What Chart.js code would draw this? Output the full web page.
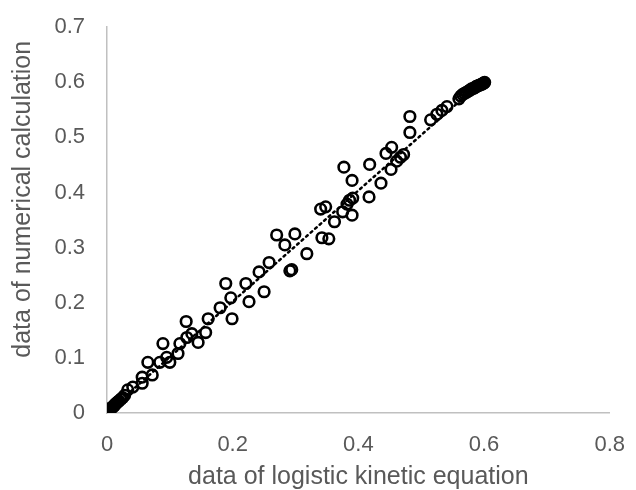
<!DOCTYPE html>
<html>
<head>
<meta charset="utf-8">
<script src="https://cdn.jsdelivr.net/npm/chart.js@4.4.1/dist/chart.umd.min.js"></script>
<style>
    html, body { margin: 0; padding: 0; background: #fff; }
    #wrap { width: 636px; height: 490px; }
</style>
</head>
<body>
<div id="wrap"><canvas id="chart" width="636" height="490"></canvas></div>
<script>
// logistic kinetic equation (x) vs numerical calculation (y)
const logisticData = [
    0.002, 0.003, 0.004, 0.005, 0.006, 0.007, 0.008, 0.009, 0.010, 0.011,
    0.012, 0.013, 0.015, 0.017, 0.019, 0.022, 0.025, 0.028,
    0.033, 0.041, 0.056, 0.056, 0.072, 0.065, 0.084, 0.100, 0.095, 0.113,
    0.089, 0.116, 0.127, 0.135, 0.145, 0.157, 0.126, 0.161, 0.180, 0.199,
    0.197, 0.189, 0.226, 0.221, 0.250, 0.242, 0.258, 0.291, 0.294, 0.270,
    0.283, 0.299, 0.318, 0.342, 0.353, 0.340, 0.348, 0.362, 0.375, 0.390,
    0.382, 0.386, 0.391, 0.417, 0.390, 0.377, 0.418, 0.436, 0.452, 0.444,
    0.453, 0.461, 0.467, 0.472, 0.482, 0.482, 0.515, 0.525, 0.533, 0.541,
    0.560, 0.563, 0.566, 0.569, 0.572, 0.575, 0.578, 0.580, 0.583, 0.585,
    0.587, 0.589, 0.591, 0.593, 0.595, 0.597, 0.599, 0.600, 0.601
];
const numericalData = [
    0.004, 0.005, 0.006, 0.007, 0.008, 0.009, 0.010, 0.011, 0.012, 0.013,
    0.014, 0.016, 0.018, 0.020, 0.022, 0.025, 0.028, 0.032,
    0.042, 0.047, 0.054, 0.065, 0.069, 0.092, 0.092, 0.092, 0.101, 0.108,
    0.126, 0.126, 0.137, 0.144, 0.128, 0.146, 0.166, 0.171, 0.191, 0.171,
    0.209, 0.235, 0.202, 0.235, 0.220, 0.256, 0.273, 0.258, 0.260, 0.323,
    0.305, 0.325, 0.289, 0.318, 0.316, 0.370, 0.374, 0.347, 0.365, 0.359,
    0.379, 0.386, 0.390, 0.392, 0.422, 0.446, 0.451, 0.417, 0.442, 0.471,
    0.482, 0.457, 0.464, 0.469, 0.509, 0.538, 0.532, 0.542, 0.549, 0.556,
    0.570, 0.575, 0.578, 0.580, 0.582, 0.584, 0.586, 0.588, 0.589, 0.590,
    0.592, 0.593, 0.594, 0.595, 0.596, 0.597, 0.598, 0.599, 0.600
];
// dotted linear trendline, ends
const trendX = [0.002, 0.602];
const trendY = [0.003, 0.607];

const xTickLabels = ["0", "0.2", "0.4", "0.6", "0.8"];
const yTickLabels = ["0", "0.1", "0.2", "0.3", "0.4", "0.5", "0.6", "0.7"];

const points = logisticData.map((x, i) => ({ x, y: numericalData[i] }));
const trend = trendX.map((x, i) => ({ x, y: trendY[i] }));

const fontFamily = "'Liberation Sans', Arial, sans-serif";
const tickFont = { family: fontFamily, size: 22 };
const titleFont = { family: fontFamily, size: 25, lineHeight: 1 };
const textColor = "#595959";
const axisColor = "#c0c0c0";

new Chart(document.getElementById("chart"), {
    type: "scatter",
    data: {
        datasets: [
            {
                label: "data",
                data: points,
                pointStyle: "circle",
                pointRadius: 5.3,
                pointBorderWidth: 2.6,
                borderColor: "#000",
                backgroundColor: "rgba(0,0,0,0)",
                order: 1
            },
            {
                label: "trend",
                type: "line",
                data: trend,
                borderColor: "#000",
                borderWidth: 2.5,
                borderDash: [2, 4],
                borderCapStyle: "round",
                pointRadius: 0,
                fill: false,
                order: 2
            }
        ]
    },
    options: {
        responsive: false,
        animation: false,
        layout: { padding: { top: 25, right: 26, left: 0, bottom: 0 } },
        plugins: {
            legend: { display: false },
            tooltip: { enabled: false }
        },
        scales: {
            x: {
                type: "linear",
                min: 0,
                max: 0.8,
                ticks: {
                    stepSize: 0.2,
                    color: textColor,
                    font: tickFont,
                    padding: 11,
                    callback: (value, index) => xTickLabels[index]
                },
                grid: { display: false },
                border: { display: true, color: axisColor, width: 1.5 },
                title: {
                    display: true,
                    text: "data of logistic kinetic equation",
                    color: textColor,
                    font: titleFont,
                    padding: 0
                },
                afterFit: (scale) => { scale.height = 77; }
            },
            y: {
                type: "linear",
                min: 0,
                max: 0.7,
                ticks: {
                    stepSize: 0.1,
                    color: textColor,
                    font: tickFont,
                    padding: 14,
                    callback: (value, index) => yTickLabels[index]
                },
                grid: { display: false },
                border: { display: true, color: axisColor, width: 1.5 },
                title: {
                    display: true,
                    // leading spaces push the centred title up the axis, as in the original
                    text: "      data of numerical calculation",
                    color: textColor,
                    font: titleFont,
                    padding: { top: 11, bottom: 0 }
                },
                afterFit: (scale) => { scale.width = 107; }
            }
        }
    }
});
</script>
</body>
</html>
